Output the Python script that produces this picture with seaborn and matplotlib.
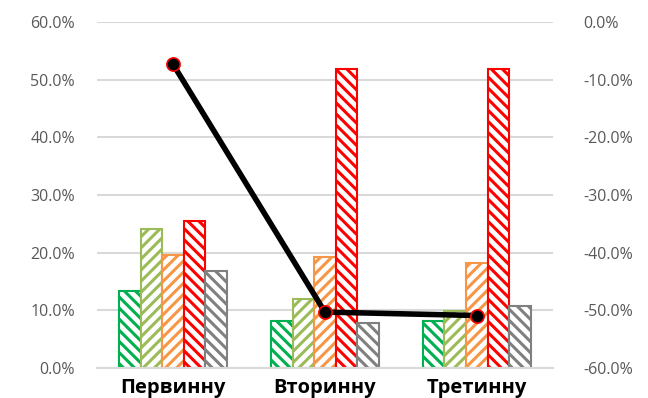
import matplotlib
matplotlib.use("Agg")
import matplotlib.pyplot as plt
from matplotlib.ticker import PercentFormatter, FixedLocator
import seaborn as sns
import pandas as pd

# data
categories = ["Первинну", "Вторинну", "Третинну"]
series = ["Ряд 1", "Ряд 2", "Ряд 3", "Ряд 4", "Ряд 5"]
bar_values = {
    "Ряд 1": [0.133, 0.082, 0.081],
    "Ряд 2": [0.241, 0.120, 0.099],
    "Ряд 3": [0.196, 0.193, 0.182],
    "Ряд 4": [0.255, 0.518, 0.518],
    "Ряд 5": [0.168, 0.078, 0.107],
}
line_values = [-0.073, -0.503, -0.509]

colors = ["#00b050", "#9bbb59", "#f79646", "#ff0000", "#808080"]
hatches = ["\\\\\\", "///", "///", "\\\\\\", "\\\\\\"]

rows = []
for s in series:
    for c, v in zip(categories, bar_values[s]):
        rows.append({"category": c, "series": s, "value": v})
df = pd.DataFrame(rows)

sns.set_style("white")
plt.rcParams["font.family"] = ["Open Sans", "DejaVu Sans"]
plt.rcParams["hatch.linewidth"] = 2.2
plt.rcParams["axes.unicode_minus"] = False

fig = plt.figure(figsize=(6.48, 3.98), dpi=100)
ax = fig.add_axes([0.1497, 0.0754, 0.7033, 0.8693])

sns.barplot(data=df, x="category", y="value", hue="series", order=categories,
            hue_order=series, palette=colors, width=0.71, ax=ax, legend=False)

# bars are outlined and hatched, not filled
for i, s in enumerate(series):
    for patch in ax.containers[i]:
        patch.set_facecolor("white")
        patch.set_edgecolor(colors[i])
        patch.set_hatch(hatches[i])
        patch.set_linewidth(1.5)

ax.set_ylim(0, 0.6)
ax.set_xlim(-0.5, len(categories) - 0.5)
ax.yaxis.set_major_formatter(PercentFormatter(1.0, decimals=1))
ax.set_yticks([0, 0.1, 0.2, 0.3, 0.4, 0.5, 0.6])
ax.grid(axis="y", color="#d9d9d9", linewidth=1.5)
ax.set_axisbelow(True)
for side in ["top", "left", "right"]:
    ax.spines[side].set_visible(False)
ax.spines["bottom"].set_color("#d9d9d9")
ax.spines["bottom"].set_linewidth(1.5)
ax.set_xlabel("")
ax.set_ylabel("")
ax.tick_params(axis="y", length=0, labelsize=11.5, labelcolor="#595959", pad=16)
ax.tick_params(axis="x", which="major", length=0, labelsize=14.5, pad=7,
               labelcolor="black")
for lbl in ax.get_xticklabels():
    lbl.set_fontweight("bold")
ax.xaxis.set_minor_locator(FixedLocator([-0.5, 0.5, 1.5, 2.5]))
ax.tick_params(axis="x", which="minor", length=24, width=1.5, color="#d9d9d9")

ax2 = ax.twinx()
sns.pointplot(x=categories, y=line_values, color="black", ax=ax2,
              markers="o", markersize=9.5, linewidth=4)
for ln in ax2.lines:
    ln.set_markeredgecolor("red")
    ln.set_markeredgewidth(1.2)
ax2.set_ylim(-0.6, 0)
ax2.set_xlim(-0.5, len(categories) - 0.5)
ax2.set_yticks([-0.6, -0.5, -0.4, -0.3, -0.2, -0.1, 0])
ax2.yaxis.set_major_formatter(PercentFormatter(1.0, decimals=1))
ax2.tick_params(axis="y", length=0, labelsize=11.5, labelcolor="#595959", pad=22)
for side in ["top", "left", "right", "bottom"]:
    ax2.spines[side].set_visible(False)
ax2.set_ylabel("")

fig.savefig("out.png", dpi=100)
